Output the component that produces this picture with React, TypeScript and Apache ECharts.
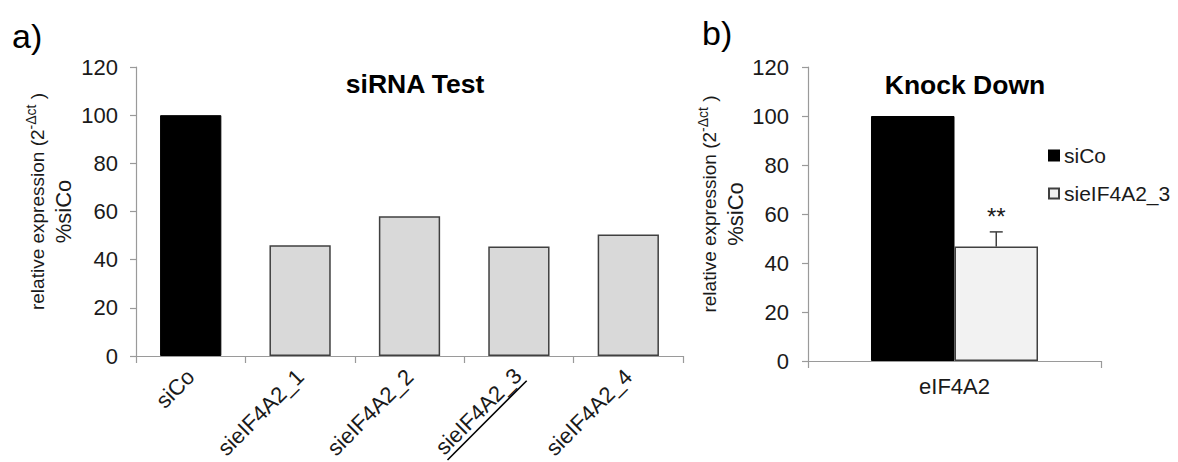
import React, { useEffect, useRef } from "react";
import * as echarts from "echarts";

const FONT = "'Liberation Sans', Arial, sans-serif";

// Panel a) siRNA Test
const categoriesA = ["siCo", "sieIF4A2_1", "sieIF4A2_2", "sieIF4A2_3", "sieIF4A2_4"];
const valuesA = [100, 46, 58, 45.5, 50.5];
const underlinedCategory = "sieIF4A2_3";

// Panel b) Knock Down
const categoriesB = ["eIF4A2"];
const siCoB = [100];
const knockDownB = [46.7];
const errorB = [6];
const significanceB = ["**"];

// Shared y axis
const yMin = 0;
const yMax = 120;
const yInterval = 20;

const BAR_GAP_B = 0.43;

export default function App() {
  const ref = useRef<HTMLDivElement>(null);

  useEffect(() => {
    if (!ref.current) return;
    const chart = echarts.init(ref.current, undefined, { renderer: "svg" });

    const axisColor = "#9a9a9a";
    const textColor = "#1a1a1a";

    const yAxisBase = (gridIndex: number, nameGap: number, labelMargin: number) => ({
      type: "value",
      gridIndex,
      min: yMin,
      max: yMax,
      interval: yInterval,
      splitLine: { show: false },
      axisLine: { show: true, lineStyle: { color: axisColor, width: 1.2 } },
      axisTick: { show: true, length: 6, lineStyle: { color: axisColor, width: 1.2 } },
      axisLabel: { color: textColor, fontSize: 22, fontFamily: FONT, margin: labelMargin },
      name: "{a0|relative expression (2}{s|-Δct}{a| )}\n{b|%siCo}",
      nameLocation: "middle",
      nameRotate: 90,
      nameGap,
      nameTextStyle: {
        color: textColor,
        fontFamily: FONT,
        fontSize: 20,
        rich: {
          a0: { fontSize: 19, fontFamily: FONT, color: textColor, lineHeight: 26, padding: [0, 0, 0, 20] },
          a: { fontSize: 19, fontFamily: FONT, color: textColor, lineHeight: 26 },
          s: { fontSize: 14, fontFamily: FONT, color: textColor, verticalAlign: "top", lineHeight: 26 },
          b: { fontSize: 22, fontFamily: FONT, color: textColor, lineHeight: 26 },
        },
      },
    });

    const option: any = {
      animation: false,
      backgroundColor: "#ffffff",
      textStyle: { fontFamily: FONT },
      title: [
        {
          text: "a)", left: 12, top: 36, padding: 0, textAlign: "left", textVerticalAlign: "middle",
          textStyle: { fontSize: 34, fontWeight: "normal", color: "#000", fontFamily: FONT },
        },
        {
          text: "b)", left: 702, top: 33, padding: 0, textAlign: "left", textVerticalAlign: "middle",
          textStyle: { fontSize: 34, fontWeight: "normal", color: "#000", fontFamily: FONT },
        },
        {
          text: "siRNA Test", left: 415, top: 84, padding: 0, textAlign: "center", textVerticalAlign: "middle",
          textStyle: { fontSize: 26.5, fontWeight: "bold", color: "#000", fontFamily: FONT },
        },
        {
          text: "Knock Down", left: 965, top: 85, padding: 0, textAlign: "center", textVerticalAlign: "middle",
          textStyle: { fontSize: 26.5, fontWeight: "bold", color: "#000", fontFamily: FONT },
        },
      ],
      legend: {
        data: ["siCo", "sieIF4A2_3"],
        orient: "vertical",
        left: 1048,
        top: 145,
        padding: 0,
        itemGap: 17,
        itemWidth: 10,
        itemHeight: 10,
        icon: "rect",
        textStyle: { fontSize: 21, color: textColor, fontFamily: FONT },
      },
      grid: [
        { left: 136, top: 67, width: 547, height: 289, containLabel: false, outerBoundsMode: "none" },
        { left: 808, top: 67, width: 293, height: 294, containLabel: false, outerBoundsMode: "none" },
      ],
      xAxis: [
        {
          type: "category",
          gridIndex: 0,
          data: categoriesA,
          axisLine: { lineStyle: { color: axisColor, width: 1.2 } },
          axisTick: { show: true, length: 7, lineStyle: { color: axisColor, width: 1.2 } },
          axisLabel: {
            interval: 0,
            rotate: 45,
            margin: 17,
            color: textColor,
            fontSize: 22,
            fontFamily: FONT,
            formatter: (v: string) => (v === underlinedCategory ? `{t|${v}}\n{u| }` : `{t|${v}}`),
            rich: {
              t: { fontSize: 22, fontFamily: FONT, color: textColor },
              u: { fontSize: 1, width: 112, height: 1.6, lineHeight: 3, backgroundColor: "#000" },
            },
          },
        },
        {
          type: "category",
          gridIndex: 1,
          data: categoriesB,
          axisLine: { lineStyle: { color: axisColor, width: 1.2 } },
          axisTick: { show: true, length: 7, lineStyle: { color: axisColor, width: 1.2 } },
          axisLabel: { color: textColor, fontSize: 22, fontFamily: FONT, margin: 14 },
        },
      ],
      yAxis: [yAxisBase(0, 60, 18), yAxisBase(1, 60, 19)],
      series: [
        {
          name: "siRNA Test",
          type: "bar",
          xAxisIndex: 0,
          yAxisIndex: 0,
          barCategoryGap: "44%",
          data: valuesA.map((v, i) => ({
            value: v,
            itemStyle:
              i === 0
                ? { color: "#000000", borderColor: "#000000", borderWidth: 1 }
                : { color: "#d9d9d9", borderColor: "#404040", borderWidth: 1.5 },
          })),
        },
        {
          name: "siCo",
          type: "bar",
          xAxisIndex: 1,
          yAxisIndex: 1,
          barGap: "0%",
          barCategoryGap: `${BAR_GAP_B * 100}%`,
          itemStyle: { color: "#000000", borderColor: "#000000", borderWidth: 1 },
          data: siCoB,
        },
        {
          name: "sieIF4A2_3",
          type: "bar",
          xAxisIndex: 1,
          yAxisIndex: 1,
          barGap: "0%",
          barCategoryGap: `${BAR_GAP_B * 100}%`,
          itemStyle: { color: "#f2f2f2", borderColor: "#404040", borderWidth: 1.5 },
          data: knockDownB,
        },
        {
          name: "error",
          type: "custom",
          xAxisIndex: 1,
          yAxisIndex: 1,
          z: 5,
          data: knockDownB.map((v, i) => [i, v, errorB[i]]),
          encode: { x: 0, y: 1 },
          renderItem: (params: any, api: any) => {
            const idx = api.value(0);
            const mean = api.value(1);
            const err = api.value(2);
            const band = api.size([1, 0])[0];
            const offset = (band * (1 - BAR_GAP_B)) / 4;
            const base = api.coord([idx, mean]);
            const top = api.coord([idx, mean + err]);
            const x = base[0] + offset;
            const cap = 6.5;
            const stroke = { stroke: "#404040", lineWidth: 1.5 };
            return {
              type: "group",
              children: [
                { type: "line", shape: { x1: x, y1: base[1], x2: x, y2: top[1] }, style: stroke },
                { type: "line", shape: { x1: x - cap, y1: top[1], x2: x + cap, y2: top[1] }, style: stroke },
                {
                  type: "text",
                  style: {
                    text: significanceB[params.dataIndex],
                    x: x,
                    y: top[1] - 15,
                    align: "center",
                    verticalAlign: "middle",
                    fontSize: 24,
                    fontFamily: FONT,
                    fill: textColor,
                  },
                },
              ],
            };
          },
        },
      ],
    };

    chart.setOption(option);
    return () => chart.dispose();
  }, []);

  return (
    <div
      ref={ref}
      style={{ position: "absolute", left: 0, top: 0, width: 1178, height: 462 }}
    />
  );
}
